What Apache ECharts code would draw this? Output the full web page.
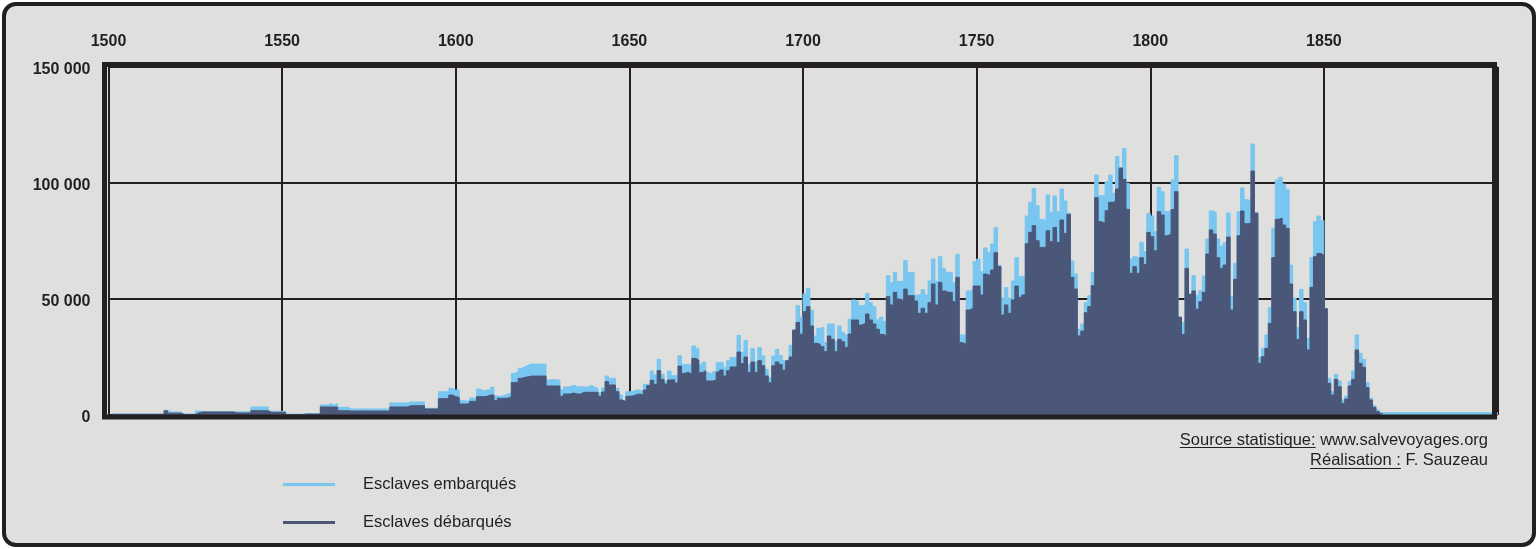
<!DOCTYPE html>
<html>
<head>
<meta charset="utf-8">
<script src="https://cdn.jsdelivr.net/npm/echarts@6/dist/echarts.min.js"></script>
<style>
html,body{margin:0;padding:0;background:#ffffff;}
#chart{width:1538px;height:549px;}
</style>
</head>
<body>
<div id="chart"></div>
<script>
// ---- DATA ----
const firstYear = 1501;
const lastYear = 1866;
const xTicks = [1500, 1550, 1600, 1650, 1700, 1750, 1800, 1850];
const yTicks = [0, 50000, 100000, 150000];
const seriesNames = ['Esclaves embarqués', 'Esclaves débarqués'];

// Esclaves embarqués, one value per year from 1501 to 1866
const embarked = [
  400,400,400,400,400,400,400,400,400,400,
  400,400,400,400,400,2000,1300,1300,1300,1300,
  400,400,400,400,1700,1500,1500,1500,1500,1500,
  1500,1500,1500,1500,1500,1400,1400,1400,1400,1400,
  3450,3450,3450,3450,3450,1600,1600,1600,1600,1600,
  400,400,400,400,400,600,600,600,600,600,
  4300,4300,4900,4300,4900,3300,3300,3300,2600,2600,
  2600,2600,2600,2600,2600,2600,2600,2600,2600,2600,
  5200,5200,5200,5200,5200,5600,5600,5600,5600,5600,
  2900,2900,2900,2900,10050,10050,10050,11500,10800,10800,
  6170,6030,6030,7330,7330,11200,10340,10770,10770,11920,
  8190,8050,8330,9050,9480,17960,18530,20120,20840,21550,
  21950,21950,21950,21950,21950,15060,15350,15060,15060,10770,
  12070,12210,12790,12210,12210,12070,12070,12790,12070,11350,
  9480,11640,16810,15800,15800,11490,8620,6170,10050,10050,
  10770,10770,10050,13220,13220,18960,17240,24000,17530,14510,
  18960,16950,16950,25520,21790,21790,21500,29740,28730,21790,
  22800,18240,17530,18670,22660,22660,20550,23420,24860,24860,
  34290,27000,32030,21790,28580,22950,29020,25520,19680,16090,
  25380,28300,25660,23370,23660,30040,36800,47100,42200,52200,
  54600,45200,34050,37350,37780,31170,39220,39220,31600,38350,
  35600,34500,41350,49560,48850,47130,47420,52420,48420,46700,
  41000,42130,40240,60030,57000,61500,57600,57470,66520,61500,
  61500,51720,51720,54010,51720,57750,67240,57600,68240,63200,
  61500,61500,57030,69250,34480,34480,53440,54150,66080,67240,
  61770,72000,69950,73680,80740,64640,50300,54880,50300,57750,
  67820,59610,59610,85780,91670,97700,90240,84340,83770,94830,
  87220,94400,87650,97410,92240,87000,66370,60740,37000,39220,
  48420,51430,61480,103440,94540,94540,100570,103440,95550,111430,
  106690,114880,99850,67240,68240,67500,74390,70370,86930,85780,
  79030,98120,96250,87650,88080,101280,111790,42380,39800,71520,
  52140,60030,51430,53590,59900,75830,87940,87220,75830,72810,
  74250,87080,50990,65360,87650,97840,92810,92380,116800,87220,
  24850,28730,34480,46250,80430,101280,102430,99560,97260,64640,
  50280,37780,54150,48420,33040,67820,83330,85780,83760,45970,
  15800,10050,17530,14650,6470,8190,14370,18960,34480,26580,
  24000,13930,7180,4020,2150,1000
];

// Esclaves débarqués, one value per year from 1501 to 1866
const disembarked = [
  300,300,300,300,300,300,300,300,300,300,
  300,300,300,300,300,1800,800,800,800,800,
  250,250,250,250,900,1300,1300,1300,1300,1300,
  1300,1300,1300,1300,1300,900,900,900,900,900,
  1850,1850,1850,1850,1850,1150,1150,1150,1150,1150,
  200,200,200,200,200,400,400,400,400,400,
  3450,3450,3450,3450,3450,1850,1850,1850,1700,1700,
  1700,1700,1700,1700,1700,1700,1700,1700,1700,1700,
  3450,3450,3450,3450,3450,4000,4000,4000,4000,4000,
  2600,2600,2600,2600,7040,7040,7040,8600,7900,7600,
  4740,4740,4880,5890,5890,7900,7900,8040,8620,8620,
  6170,7180,7180,7180,7760,13930,14220,15800,16230,16520,
  16780,16780,16780,16780,16780,12500,12500,12500,12500,8040,
  9050,9050,9480,9050,9050,9770,9770,9770,9770,9770,
  8040,9910,14360,12930,12930,10050,6470,5750,8050,8190,
  8760,9050,8620,10770,12650,14940,13220,19110,15370,13360,
  15080,15220,13790,21070,17950,18380,17520,24420,23700,18240,
  19100,14650,14650,15080,18530,19400,16810,19110,20690,20690,
  27140,22130,24980,18380,22840,18380,23400,21210,16810,13930,
  21210,22840,21790,19340,23370,25000,36500,39900,34850,44500,
  46700,38350,30880,30450,29450,27300,34050,32600,27300,32600,
  31600,29160,34900,40950,40950,38780,39500,43530,40950,39220,
  36950,34770,34200,51000,47400,52870,50000,49290,54300,51430,
  51430,49140,43820,46020,43820,48420,56460,47400,57180,53440,
  52870,52870,48850,59330,31170,30450,45240,46020,55590,55590,
  51720,60740,60030,62490,69950,64000,43100,47420,43820,49580,
  55590,50720,51720,73820,78710,81580,75110,72250,72250,79420,
  74680,80860,74390,84050,78280,86500,59330,54300,34100,36200,
  44100,46680,55730,93670,83330,82610,88070,91670,91960,97410,
  106400,101560,88640,61060,63930,61060,67820,64930,78710,76840,
  70800,87650,86210,77270,77990,88570,96250,42100,34700,63210,
  52000,53440,45530,48850,52870,69380,79750,77990,67820,63210,
  64640,76700,45240,58460,77270,87940,82460,82580,105160,87000,
  22270,25140,28730,39500,67820,84340,84770,81860,80430,56460,
  44540,32610,44540,40950,28010,55020,68240,69670,68960,45800,
  13650,8620,15370,12210,5030,6900,12500,15370,28010,22270,
  20550,11780,6470,3300,1440,570
];

// After the end of the trade (1867 to 1900) no slaves were carried
const embarkedAfter = 0;

// ---- BUILD ----
const LIGHT = '#79C6F0';
const DARK = '#4A5779';
const INK = '#231F20';
const FONT = '"Liberation Sans", Arial, Helvetica, sans-serif';

function stepData(values, tailValue) {
  const out = values.map((v, i) => [firstYear + i, v]);
  out.push([lastYear + 1, values[values.length - 1]]);
  if (tailValue !== undefined) out.push([xTicks[xTicks.length - 1] + 50, tailValue]);
  return out;
}

const measureCtx = document.createElement('canvas').getContext('2d');
function textWidth(t, size) {
  measureCtx.font = size + 'px ' + FONT;
  return measureCtx.measureText(t).width;
}

const srcFont = 16.5;
const line1 = 'Source statistique: www.salvevoyages.org';
const line1u = 'Source statistique:';
const line2 = 'Réalisation : F. Sauzeau';
const line2u = 'Réalisation :';
const textRight = 1488;
const l1start = textRight - textWidth(line1, srcFont);
const l2start = textRight - textWidth(line2, srcFont);

const chart = echarts.init(document.getElementById('chart'), null, {renderer: 'canvas'});
chart.setOption({
  animation: false,
  backgroundColor: '#ffffff',
  grid: {left: 108.5, right: 40.5, top: 67, bottom: 134, containLabel: false},
  xAxis: {
    type: 'value', position: 'top',
    min: xTicks[0], max: xTicks[xTicks.length - 1] + 50, interval: 50,
    axisLine: {show: false}, axisTick: {show: false},
    axisLabel: {
      margin: 17, fontFamily: FONT, fontSize: 16, fontWeight: 'bold', color: INK,
      formatter: v => (xTicks.indexOf(v) >= 0 ? String(v) : '')
    },
    splitLine: {show: true, lineStyle: {color: INK, width: 2}}
  },
  yAxis: {
    type: 'value', min: yTicks[0], max: yTicks[yTicks.length - 1], interval: 50000,
    axisLine: {show: false}, axisTick: {show: false},
    axisLabel: {
      margin: 18, color: INK,
      formatter: v => '{t|' + (v === 0 ? '0' : (v / 1000) + ' 000') + '}',
      rich: {
        t: {fontFamily: FONT, fontSize: 16, fontWeight: 'bold', color: INK, padding: [5, 0, 0, 0]}
      }
    },
    splitLine: {show: true, lineStyle: {color: INK, width: 2}}
  },
  legend: {
    orient: 'vertical', left: 278, top: 471, itemGap: 21,
    icon: 'rect', itemWidth: 52, itemHeight: 3,
    textStyle: {fontFamily: FONT, fontSize: 16.5, color: INK, padding: [0, 0, 0, 23]},
    data: seriesNames,
    selectedMode: false
  },
  series: [
    {
      name: seriesNames[0], type: 'line', step: 'end',
      data: stepData(embarked, embarkedAfter),
      symbol: 'none', showSymbol: false,
      itemStyle: {color: LIGHT},
      lineStyle: {color: LIGHT, width: 1},
      areaStyle: {color: LIGHT, opacity: 1},
      z: 3
    },
    {
      name: seriesNames[1], type: 'line', step: 'end',
      data: stepData(disembarked),
      symbol: 'none', showSymbol: false,
      itemStyle: {color: DARK},
      lineStyle: {color: DARK, width: 1},
      areaStyle: {color: DARK, opacity: 1},
      z: 4
    }
  ],
  graphic: {
    elements: [
      {type: 'rect', z: -100, silent: true,
       shape: {x: 4, y: 4, width: 1530, height: 541, r: 12},
       style: {fill: '#DFDFDD', stroke: null}},
      {type: 'rect', z: 100, silent: true,
       shape: {x: 4, y: 4, width: 1530, height: 541, r: 12},
       style: {fill: null, stroke: INK, lineWidth: 4}},
      {type: 'rect', z: 100, silent: true,
       shape: {x: 104.5, y: 64.5, width: 1390, height: 352.5},
       style: {fill: null, stroke: INK, lineWidth: 5}},
      {type: 'text', z: 100, silent: true, x: textRight, y: 440,
       style: {text: line1, fill: INK, font: srcFont + 'px ' + FONT, textAlign: 'right', textVerticalAlign: 'middle'}},
      {type: 'text', z: 100, silent: true, x: textRight, y: 460.5,
       style: {text: line2, fill: INK, font: srcFont + 'px ' + FONT, textAlign: 'right', textVerticalAlign: 'middle'}},
      {type: 'line', z: 100, silent: true,
       shape: {x1: l1start, y1: 447.5, x2: l1start + textWidth(line1u, srcFont), y2: 447.5},
       style: {stroke: INK, lineWidth: 1}},
      {type: 'line', z: 100, silent: true,
       shape: {x1: l2start, y1: 468.5, x2: l2start + textWidth(line2u, srcFont), y2: 468.5},
       style: {stroke: INK, lineWidth: 1}}
    ]
  }
});
</script>
</body>
</html>
